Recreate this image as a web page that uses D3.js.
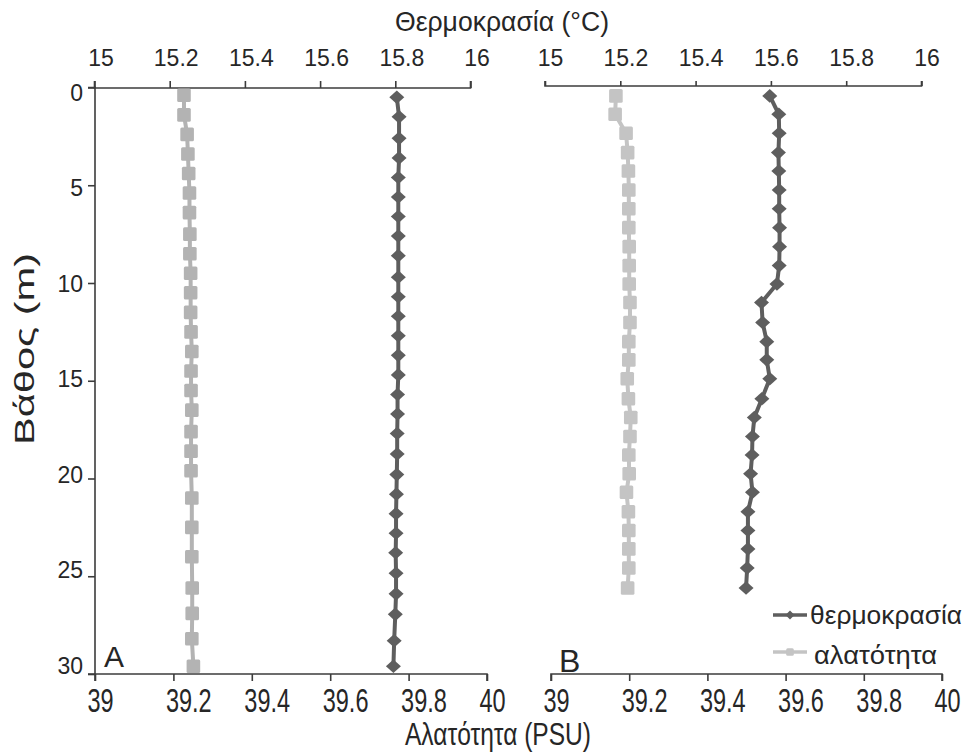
<!DOCTYPE html>
<html>
<head>
<meta charset="utf-8">
<script src="https://cdn.jsdelivr.net/npm/d3@7"></script>
<style>
  html, body { margin: 0; padding: 0; background: #fff; }
  svg text { font-family: "Liberation Sans", Arial, sans-serif; fill: #262626; }
</style>
</head>
<body>
<svg id="chart" width="973" height="755"></svg>
<script>
// Depth profiles: temperature (top axis) and salinity (bottom axis) at two stations
const depthTempA = [0.5,1.5,2.6,3.6,4.6,5.6,6.6,7.6,8.6,9.7,10.7,11.7,12.7,13.7,14.7,15.7,16.7,17.7,18.75,19.8,20.8,21.8,22.8,23.8,24.85,25.9,26.95,28.3,29.6];
const tempA = [15.804,15.810,15.810,15.810,15.808,15.808,15.808,15.808,15.808,15.808,15.808,15.808,15.808,15.808,15.808,15.806,15.806,15.805,15.805,15.804,15.803,15.802,15.802,15.801,15.802,15.802,15.800,15.797,15.795];

const depthSalA = [0.4,1.4,2.4,3.4,4.4,5.4,6.4,7.5,8.5,9.5,10.5,11.5,12.5,13.5,14.5,15.5,16.5,17.6,18.6,19.6,21.0,22.5,24.0,25.6,26.9,28.2,29.6];
const salA = [39.227,39.227,39.235,39.237,39.239,39.241,39.241,39.242,39.242,39.244,39.244,39.244,39.245,39.247,39.245,39.245,39.247,39.245,39.245,39.245,39.247,39.247,39.247,39.248,39.248,39.247,39.251];

const depthB = [0.43,1.37,2.34,3.33,4.27,5.24,6.2,7.17,8.14,9.11,10.05,11.0,12.02,13.0,13.93,14.9,15.92,16.88,17.85,18.8,19.76,20.7,21.7,22.66,23.6,24.58,25.6];
const tempB = [15.597,15.621,15.622,15.620,15.621,15.622,15.622,15.623,15.623,15.622,15.616,15.575,15.578,15.589,15.589,15.597,15.576,15.556,15.551,15.550,15.546,15.551,15.539,15.539,15.539,15.537,15.534];
const salB = [39.166,39.164,39.192,39.196,39.198,39.199,39.199,39.199,39.200,39.200,39.200,39.202,39.202,39.199,39.199,39.195,39.198,39.204,39.202,39.199,39.200,39.193,39.198,39.199,39.199,39.199,39.196];

const tempTicks = [15, 15.2, 15.4, 15.6, 15.8, 16];
const salTicks = [39, 39.2, 39.4, 39.6, 39.8, 40];
const depthTicks = [0, 5, 10, 15, 20, 25, 30];

const panelLabels = ["A", "B"];
const legendLabels = ["θερμοκρασία", "αλατότητα"];
const titleTemp = "Θερμοκρασία (°C)";
const titleSal = "Αλατότητα (PSU)";
const titleDepth = "Βάθος (m)";

const svg = d3.select("#chart");
const axisColor = "#3c3c3c";
const darkColor = "#5e5e5e";
const font = "Liberation Sans, Arial, sans-serif";

const y = d3.scaleLinear().domain([0, 30]).range([87.5, 674]);
// depth labels sit on a slightly tighter spacing than their ticks
const yLabel = d3.scaleLinear().domain([0, 30]).range([91.5, 665]);

const panels = [
  { top: d3.scaleLinear().domain([15, 16]).range([94.5, 470.5]), topY: 88, topTick: 7, topDx: 6,
    bot: d3.scaleLinear().domain([39, 40]).range([95, 487]),
    tDepth: depthTempA, t: tempA, sDepth: depthSalA, s: salA, light: "#b3b3b3",
    label: panelLabels[0], labelX: 104, labelY: 667, labelSize: 30 },
  { top: d3.scaleLinear().domain([15, 16]).range([545, 921.5]), topY: 86, topTick: 5, topDx: 5,
    bot: d3.scaleLinear().domain([39, 40]).range([551, 942]),
    tDepth: depthB, t: tempB, sDepth: depthB, s: salB, light: "#c4c4c4",
    label: panelLabels[1], labelX: 559, labelY: 672, labelSize: 32 }
];

function diamond(g, cx, cy, w, h, fill) {
  g.append("path")
    .attr("d", `M${cx},${cy - h} L${cx + w},${cy} L${cx},${cy + h} L${cx - w},${cy} Z`)
    .attr("fill", fill);
}
function square(g, cx, cy, s, fill) {
  g.append("rect").attr("x", cx - s).attr("y", cy - s).attr("width", 2 * s).attr("height", 2 * s)
    .attr("rx", 1.5).attr("fill", fill);
}

panels.forEach(p => {
  const g = svg.append("g");

  // top (temperature) axis
  const topAxis = d3.axisTop(p.top).tickValues(tempTicks).tickSize(p.topTick).tickFormat(d3.format("~g"));
  const ta = g.append("g").attr("transform", `translate(0,${p.topY})`).call(topAxis);
  ta.select(".domain").attr("d", `M${p.top(15)},${-p.topTick}V0H${p.top(16)}V${-p.topTick}`);
  ta.selectAll("path,line").attr("stroke", axisColor).attr("stroke-width", 1.6);
  ta.selectAll("text").attr("font-size", 23).attr("y", -(p.topY - 66)).attr("dy", 0)
    .attr("x", p.topDx).attr("fill", "#262626").attr("font-family", font);

  // bottom (salinity) axis: labels start just left of their tick, in a condensed face
  const botAxis = d3.axisBottom(p.bot).tickValues(salTicks).tickSize(7).tickFormat(d3.format("~g"));
  const ba = g.append("g").attr("transform", `translate(0,674)`).call(botAxis);
  ba.select(".domain").attr("d", `M${p.bot(39)},7V0H${p.bot(40)}V7`);
  ba.selectAll("path,line").attr("stroke", axisColor).attr("stroke-width", 1.6);
  ba.selectAll(".tick text").attr("y", 0).attr("dy", 0).attr("x", 0)
    .attr("text-anchor", "start")
    .attr("transform", "translate(-8,38) scale(0.84,1.2)")
    .attr("font-size", 28).attr("fill", "#262626").attr("font-family", font);

  // salinity profile
  const lineS = d3.line().x(d => p.bot(d[1])).y(d => y(d[0]));
  const sPts = p.sDepth.map((d, i) => [d, p.s[i]]);
  g.append("path").datum(sPts).attr("d", lineS).attr("fill", "none")
    .attr("stroke", p.light).attr("stroke-width", 4);
  const sg = g.append("g");
  sPts.forEach(d => square(sg, p.bot(d[1]), y(d[0]), 6.8, p.light));

  // temperature profile
  const lineT = d3.line().x(d => p.top(d[1])).y(d => y(d[0]));
  const tPts = p.tDepth.map((d, i) => [d, p.t[i]]);
  g.append("path").datum(tPts).attr("d", lineT).attr("fill", "none")
    .attr("stroke", darkColor).attr("stroke-width", 4);
  const tg = g.append("g");
  tPts.forEach(d => diamond(tg, p.top(d[1]), y(d[0]), 7.5, 6.8, darkColor));

  g.append("text").attr("x", p.labelX).attr("y", p.labelY).attr("font-size", p.labelSize).text(p.label);
});

// depth axis (panel A only)
const leftAxis = d3.axisLeft(y).tickValues(depthTicks).tickSize(7);
const la = svg.append("g").attr("transform", "translate(95,0)").call(leftAxis);
la.select(".domain").attr("d", `M-7,${y(0)}H0V${y(30)}H-7`);
la.selectAll("path,line").attr("stroke", axisColor).attr("stroke-width", 1.6);
la.selectAll(".tick text").attr("x", -12).attr("dy", 0)
  .attr("y", d => yLabel(d) - y(d) + 8.5).attr("font-size", 23)
  .attr("fill", "#262626").attr("font-family", font);

// axis titles
svg.append("text").attr("x", 395).attr("y", 31).attr("font-size", 27)
  .attr("textLength", 214).attr("lengthAdjust", "spacingAndGlyphs").text(titleTemp);
svg.append("text").attr("x", 405).attr("y", 745).attr("font-size", 32)
  .attr("textLength", 186).attr("lengthAdjust", "spacingAndGlyphs").text(titleSal);
svg.append("text").attr("transform", "translate(34,445) rotate(-90)").attr("font-size", 28)
  .attr("textLength", 192).attr("lengthAdjust", "spacingAndGlyphs").text(titleDepth);

// legend
const legend = svg.append("g");
const rows = [
  { label: legendLabels[0], color: darkColor, ly: 615, ty: 624, mark: "d", x: 810, len: 152 },
  { label: legendLabels[1], color: "#c4c4c4", ly: 652, ty: 664, mark: "s", x: 814, len: 123 }
];
rows.forEach(r => {
  legend.append("line").attr("x1", 773).attr("x2", 807).attr("y1", r.ly).attr("y2", r.ly)
    .attr("stroke", r.color).attr("stroke-width", 3.5);
  if (r.mark === "d") diamond(legend, 790, r.ly, 4.5, 4.5, r.color);
  else square(legend, 790, r.ly, 3.8, r.color);
  legend.append("text").attr("x", r.x).attr("y", r.ty).attr("font-size", 26)
    .attr("textLength", r.len).attr("lengthAdjust", "spacingAndGlyphs").text(r.label);
});
</script>
</body>
</html>
